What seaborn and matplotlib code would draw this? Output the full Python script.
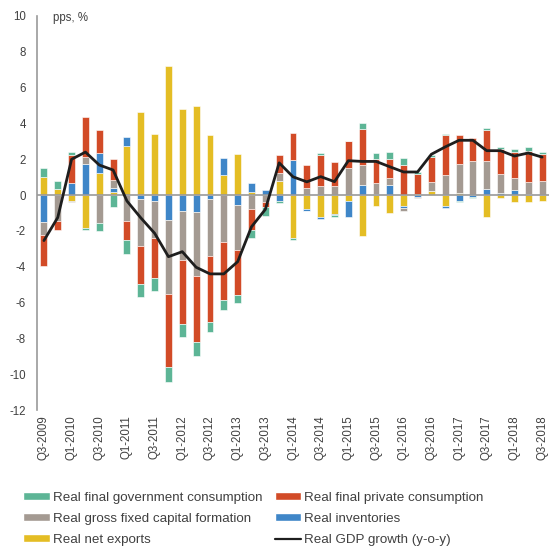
import numpy as np
import pandas as pd
import matplotlib
matplotlib.use("Agg")
import matplotlib.pyplot as plt
import seaborn as sns
from matplotlib.patches import Patch
from matplotlib.lines import Line2D

quarters = ["Q3-2009", "Q4-2009",
            "Q1-2010", "Q2-2010", "Q3-2010", "Q4-2010",
            "Q1-2011", "Q2-2011", "Q3-2011", "Q4-2011",
            "Q1-2012", "Q2-2012", "Q3-2012", "Q4-2012",
            "Q1-2013", "Q2-2013", "Q3-2013", "Q4-2013",
            "Q1-2014", "Q2-2014", "Q3-2014", "Q4-2014",
            "Q1-2015", "Q2-2015", "Q3-2015", "Q4-2015",
            "Q1-2016", "Q2-2016", "Q3-2016", "Q4-2016",
            "Q1-2017", "Q2-2017", "Q3-2017", "Q4-2017",
            "Q1-2018", "Q2-2018", "Q3-2018"]

net_exports = [0.99, 0.35, -0.35, -1.81, 1.21, 0.19, 2.76, 4.62, 3.43, 7.19,
               4.80, 4.95, 3.35, 1.10, 2.27, 0.19, 0.00, 0.80, -2.37, -0.76,
               -1.23, -1.04, -0.32, -2.31, -0.63, -1.00, -0.63, 0.05, 0.21, -0.63,
               0.12, 0.00, -1.22, -0.15, -0.39, -0.39, -0.32]
inventories = [-1.51, 0.00, 0.67, 1.73, 1.12, 0.22, 0.48, -0.20, -0.32, -1.40,
               -0.88, -0.93, -0.20, 0.95, -0.56, 0.48, 0.29, -0.32, 1.97, -0.11,
               -0.11, -0.05, -0.91, 0.54, 0.07, 0.54, -0.11, -0.12, 0.00, -0.11,
               -0.31, -0.11, 0.36, 0.11, 0.26, 0.07, 0.00]
gfcf = [-0.74, -1.47, -0.05, 0.39, -1.56, 0.43, -1.47, -2.63, -2.05, -4.13,
        -2.74, -3.58, -3.18, -2.61, -2.52, -0.77, -0.38, 0.43, 0.00, 0.39,
        0.50, 0.51, 1.51, 1.15, 0.61, 0.43, -0.17, -0.05, 0.53, 1.14,
        1.63, 1.88, 1.52, 1.04, 0.71, 0.67, 0.80]
private = [-1.69, -0.47, 1.58, 2.24, 1.30, 1.19, -1.06, -2.12, -2.27, -4.08,
           -3.58, -3.71, -3.71, -3.25, -2.48, -1.17, -0.30, 0.99, 1.49, 1.28,
           1.75, 1.34, 1.49, 2.01, 1.32, 1.06, 1.68, 1.10, 1.37, 2.21,
           1.61, 1.30, 1.73, 1.42, 1.42, 1.74, 1.49]
government = [0.52, 0.43, 0.15, -0.13, -0.43, -0.69, -0.76, -0.73, -0.74, -0.80,
              -0.71, -0.74, -0.56, -0.54, -0.47, -0.47, -0.47, -0.12, -0.11, -0.03,
              0.09, -0.12, 0.00, 0.35, 0.34, 0.37, 0.37, 0.15, 0.11, 0.07,
              -0.09, -0.05, 0.11, 0.13, 0.19, 0.21, 0.12]
gdp_growth = [-2.54, -1.25, 2.00, 2.40, 1.68, 1.40, -0.33, -1.27, -2.13, -3.44,
              -3.16, -4.03, -4.40, -4.40, -3.72, -1.77, -0.80, 1.80, 1.02, 0.74,
              1.03, 0.75, 1.92, 1.88, 1.88, 1.58, 1.29, 1.29, 2.28, 2.69,
              3.06, 3.06, 2.48, 2.48, 2.18, 2.35, 2.12]

names = {
    "gov": "Real final government consumption",
    "priv": "Real final private consumption",
    "gfcf": "Real gross fixed capital formation",
    "inv": "Real inventories",
    "nx": "Real net exports",
    "gdp": "Real GDP growth (y-o-y)",
}
colors = {
    "gov": "#5db596",
    "priv": "#d24b27",
    "gfcf": "#a49a92",
    "inv": "#3f86c8",
    "nx": "#e4bd24",
}

sns.set_style("white")
plt.rcParams["font.family"] = ["Liberation Sans", "DejaVu Sans"]
text_col = "#404040"

fig = plt.figure(figsize=(5.49, 5.46), dpi=100)
W, H = 549.0, 546.0
ax = fig.add_axes([37 / W, 1 - 410 / H, 1 - 37 / W, (410 - 16) / H])

stack = [("nx", net_exports), ("inv", inventories), ("gfcf", gfcf),
         ("priv", private), ("gov", government)]
n = len(quarters)
pos_base = np.zeros(n)
neg_base = np.zeros(n)
for key, vals in stack:
    v = np.asarray(vals, dtype=float)
    bottom = np.where(v >= 0, pos_base, neg_base)
    df = pd.DataFrame({"quarter": quarters, "value": v})
    sns.barplot(data=df, x="quarter", y="value", order=quarters, color=colors[key],
                saturation=1, width=0.5, errorbar=None, bottom=bottom,
                edgecolor="#ffffff", linewidth=0.4, ax=ax, zorder=2)
    pos_base += np.where(v > 0, v, 0)
    neg_base += np.where(v < 0, v, 0)

ax.axhline(0, color="#9a9a9a", lw=1.2, zorder=2.6)

df_line = pd.DataFrame({"quarter": quarters, "gdp": gdp_growth})
sns.lineplot(data=df_line, x="quarter", y="gdp", sort=False, color="#1e1e1e",
             lw=2.0, ax=ax, zorder=3, legend=False)

ax.set_xlim(-0.5, n - 0.5)
ax.set_ylim(-12, 10)
ax.set_yticks(range(-12, 11, 2))
ax.set_yticklabels([str(t) for t in range(-12, 11, 2)], fontsize=8.3, color=text_col)
ax.set_xticks(range(0, n, 2))
ax.set_xticklabels(quarters[::2], rotation=90, fontsize=8.3, color=text_col)
ax.tick_params(axis="both", length=0)
ax.tick_params(axis="y", pad=8)
ax.tick_params(axis="x", pad=4)
ax.set_xlabel("")
ax.set_ylabel("")
for s in ["top", "right", "bottom"]:
    ax.spines[s].set_visible(False)
ax.spines["left"].set_color("#9a9a9a")
ax.spines["left"].set_linewidth(1.2)

fig.text(53 / W, 1 - 18 / H, "pps, %", fontsize=8.3, color=text_col, va="center", ha="left")

handles = [Patch(facecolor=colors["gov"], label=names["gov"]),
           Patch(facecolor=colors["gfcf"], label=names["gfcf"]),
           Patch(facecolor=colors["nx"], label=names["nx"]),
           Patch(facecolor=colors["priv"], label=names["priv"]),
           Patch(facecolor=colors["inv"], label=names["inv"]),
           Line2D([0], [0], color="#1e1e1e", lw=1.6, label=names["gdp"])]
leg = fig.legend(handles=handles, ncol=2, loc="upper left",
                 bbox_to_anchor=(23 / W, 1 - 492 / H), frameon=False,
                 fontsize=9.6, handlelength=2.0, handleheight=0.55,
                 handletextpad=0.25, columnspacing=0.9, labelspacing=0.68,
                 borderpad=0, borderaxespad=0)
for t in leg.get_texts():
    t.set_color(text_col)

fig.savefig("out.png", dpi=100)
